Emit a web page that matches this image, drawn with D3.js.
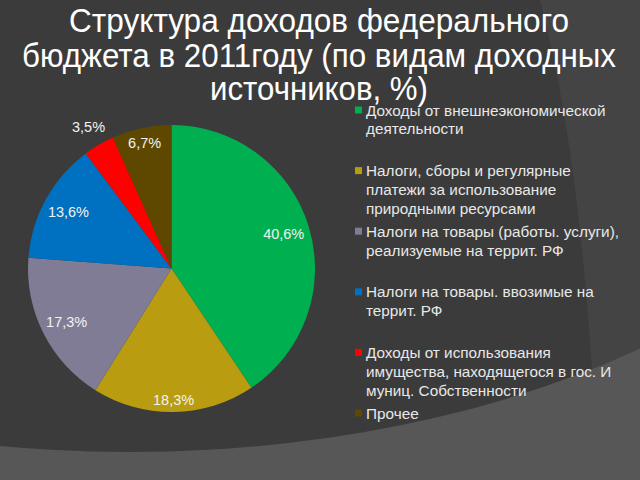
<!DOCTYPE html>
<html><head><meta charset="utf-8">
<script src="https://cdn.jsdelivr.net/npm/d3@7"></script>
<style>
html,body{margin:0;padding:0;background:#3b3b3b;}
svg{display:block;}
</style></head>
<body><svg id="c" width="640" height="480"></svg>
<script>
const titleLines = ["Структура доходов федерального", "бюджета в 2011году (по видам доходных", "источников, %)"];
const categories = [
  ["Доходы от внешнеэкономической", "деятельности"],
  ["Налоги, сборы и регулярные", "платежи за использование", "природными ресурсами"],
  ["Налоги на товары (работы. услуги),", "реализуемые на террит. РФ"],
  ["Налоги на товары. ввозимые на", "террит. РФ"],
  ["Доходы от использования", "имущества, находящегося в гос. И", "муниц. Собственности"],
  ["Прочее"]
];
const values = [40.6, 18.3, 17.3, 13.6, 3.5, 6.7];
const valueLabels = ["40,6%", "18,3%", "17,3%", "13,6%", "3,5%", "6,7%"];
const colors = ["#00b050", "#b99c10", "#807c95", "#0070c0", "#ff0000", "#5e4800"];
const outsideLabel = [false, false, false, false, true, false];

const svg = d3.select("#c");
// background
svg.append("rect").attr("width", 640).attr("height", 480).attr("fill", "#575757");
svg.append("clipPath").attr("id", "bgclip").append("ellipse")
  .attr("cx", 130).attr("cy", 0).attr("rx", 800).attr("ry", 452);
svg.append("ellipse").attr("cx", 130).attr("cy", 0).attr("rx", 800).attr("ry", 452).attr("fill", "#3b3b3b");
svg.append("path").attr("clip-path", "url(#bgclip)")
  .attr("d", "M540,0 Q585,170 598,480 L640,480 L640,0 Z").attr("fill", "#444444");

// title
const title = svg.append("g").attr("fill", "#ffffff")
  .attr("font-family", "'Liberation Sans Narrow','Liberation Sans',Arial,sans-serif")
  .attr("font-size", 33).attr("text-anchor", "middle");
const titleWidths = [500, 594, 218];
const titleY = [32, 67, 100];
titleLines.forEach((t, i) => {
  title.append("text").attr("x", 319).attr("y", titleY[i])
    .attr("textLength", titleWidths[i]).attr("lengthAdjust", "spacingAndGlyphs").text(t);
});

// pie
const cx = 171.5, cy = 268.5, R = 143.5;
const pie = d3.pie().sort(null).value(d => d)(values);
const arc = d3.arc().innerRadius(0).outerRadius(R);
const g = svg.append("g").attr("transform", `translate(${cx},${cy})`);
g.selectAll("path.slice").data(pie).join("path").attr("class", "slice")
  .attr("d", arc).attr("fill", (d, i) => colors[i]);

const lab = g.selectAll("text.lab").data(pie).join("text").attr("class", "lab")
  .attr("font-family", "'Liberation Sans',Arial,sans-serif").attr("font-size", 14.5)
  .attr("fill", "#f2f2f2").attr("text-anchor", "middle").attr("dominant-baseline", "central")
  .text((d, i) => valueLabels[i]);
lab.each(function (d, i) {
  const w = this.getComputedTextLength(), h = 14;
  const a = (d.startAngle + d.endAngle) / 2;
  const dx = Math.sin(a), dy = -Math.cos(a);
  const proj = (w / 2) * Math.abs(dx) + (h / 2) * Math.abs(dy);
  const dist = outsideLabel[i] ? R + 6 + proj : R - 4.5 - proj;
  d3.select(this).attr("x", dx * dist).attr("y", dy * dist);
});

// legend
const leg = svg.append("g").attr("font-family", "'Liberation Sans',Arial,sans-serif")
  .attr("font-size", 15.3).attr("fill", "#e8e8e8");
const ly0 = 110, lstep = 60.6, lh = 18.8;
categories.forEach((lines, i) => {
  const y = ly0 + i * lstep;
  leg.append("rect").attr("x", 355).attr("y", y - 3.5).attr("width", 7).attr("height", 7).attr("fill", colors[i]);
  lines.forEach((t, j) => {
    leg.append("text").attr("x", 366).attr("y", y + j * lh).attr("dominant-baseline", "central").text(t);
  });
});
</script></body></html>
